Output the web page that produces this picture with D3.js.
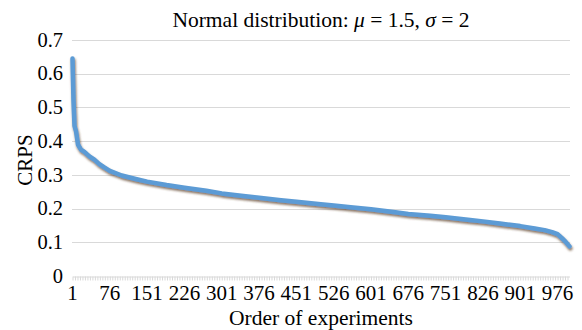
<!DOCTYPE html>
<html>
<head>
<meta charset="utf-8">
<script src="https://cdn.jsdelivr.net/npm/d3@7"></script>
<style>
  body { margin: 0; background: #fff; }
  svg text { font-family: "Liberation Serif", "Times New Roman", serif; fill: #000; }
  .grid line { stroke: #d9d9d9; stroke-width: 1; }
  .axis path, .axis line { stroke: #d9d9d9; }
</style>
</head>
<body>
<div class="diagram"></div>
<script>
var width = 582, height = 330, margin = {top: 40, right: 12, bottom: 54, left: 72};

var order = [1, 3, 5, 8, 12, 18, 25, 35, 45, 55, 65, 76, 100, 130, 151, 190, 226, 270, 301, 340,
             376, 420, 451, 500, 526, 560, 601, 650, 676, 720, 751, 800, 826, 860, 901, 930,
             950, 965, 976, 985, 992, 1000];
var crps = [0.645, 0.52, 0.445, 0.43, 0.39, 0.375, 0.368, 0.355, 0.345, 0.332, 0.322, 0.312,
            0.298, 0.287, 0.280, 0.270, 0.262, 0.253, 0.245, 0.238, 0.232, 0.225, 0.220, 0.213,
            0.209, 0.204, 0.198, 0.189, 0.184, 0.179, 0.174, 0.166, 0.162, 0.156, 0.148, 0.141,
            0.136, 0.130, 0.124, 0.112, 0.102, 0.088];
var xTickLabels = [1, 76, 151, 226, 301, 376, 451, 526, 601, 676, 751, 826, 901, 976];
var yTicks = [0, 0.1, 0.2, 0.3, 0.4, 0.5, 0.6, 0.7];

var w = width - margin.left - margin.right,
    h = height - margin.top - margin.bottom;

var svg = d3.select('.diagram')
  .append('svg')
  .attr('width', width)
  .attr('height', height);

var defs = svg.append('defs');
var f = defs.append('filter').attr('id', 'shadow')
  .attr('x', '-5%').attr('y', '-20%').attr('width', '110%').attr('height', '140%');
f.append('feDropShadow')
  .attr('dx', 0.8).attr('dy', 2)
  .attr('stdDeviation', 1.1)
  .attr('flood-color', '#5a3a22')
  .attr('flood-opacity', 0.7);

var g = svg.append('g')
  .attr('transform', 'translate(' + margin.left + ',' + margin.top + ')');

var x = d3.scaleLinear().domain([1, 1000]).range([0.5, w - 0.5]),
    y = d3.scaleLinear().domain([0, 0.7]).range([h, 0]);

// gridlines
g.append('g')
  .attr('class', 'grid')
  .selectAll('line')
  .data(yTicks.slice(1))
  .enter().append('line')
  .attr('x1', 0).attr('x2', w)
  .attr('y1', function(d) { return Math.round(y(d)) + 0.5; })
  .attr('y2', function(d) { return Math.round(y(d)) + 0.5; });

// y axis labels
g.append('g')
  .selectAll('text')
  .data(yTicks)
  .enter().append('text')
  .attr('x', -9)
  .attr('y', function(d) { return y(d); })
  .attr('dy', '0.33em')
  .attr('text-anchor', 'end')
  .style('font-size', '20.5px')
  .text(function(d) { return d === 0 ? '0' : d3.format('.1f')(d); });

// x axis: minor ticks every 5 experiments
var minor = d3.range(1, 1001, 5);
g.append('g')
  .attr('class', 'axis')
  .attr('transform', 'translate(0,' + (Math.round(h) + 0.5) + ')')
  .call(d3.axisBottom(x).tickValues(minor).tickSize(4).tickFormat('').tickSizeOuter(0));

g.append('g')
  .attr('transform', 'translate(0,' + h + ')')
  .selectAll('text')
  .data(xTickLabels)
  .enter().append('text')
  .attr('x', function(d) { return x(d); })
  .attr('y', 24)
  .attr('text-anchor', 'middle')
  .style('font-size', '21px')
  .text(function(d) { return d; });

// series
var line = d3.line()
  .x(function(d, i) { return x(order[i]); })
  .y(function(d) { return y(d); });

g.append('path')
  .datum(crps)
  .attr('d', line)
  .attr('fill', 'none')
  .attr('stroke', '#5b9bd5')
  .attr('stroke-width', 4.5)
  .attr('stroke-linejoin', 'round')
  .attr('stroke-linecap', 'round')
  .attr('filter', 'url(#shadow)');

// title
var title = svg.append('text')
  .attr('x', margin.left + w / 2)
  .attr('y', 27)
  .attr('text-anchor', 'middle')
  .style('font-size', '21.5px');
title.append('tspan').text('Normal distribution: ');
title.append('tspan').style('font-style', 'italic').text('\u03bc');
title.append('tspan').text(' = 1.5, ');
title.append('tspan').style('font-style', 'italic').text('\u03c3');
title.append('tspan').text(' = 2');

// axis titles
svg.append('text')
  .attr('x', margin.left + w / 2)
  .attr('y', 325)
  .attr('text-anchor', 'middle')
  .style('font-size', '21.5px')
  .text('Order of experiments');

svg.append('text')
  .attr('transform', 'translate(32,' + 160 + ') rotate(-90)')
  .attr('text-anchor', 'middle')
  .style('font-size', '21px')
  .text('CRPS');
</script>
</body>
</html>
